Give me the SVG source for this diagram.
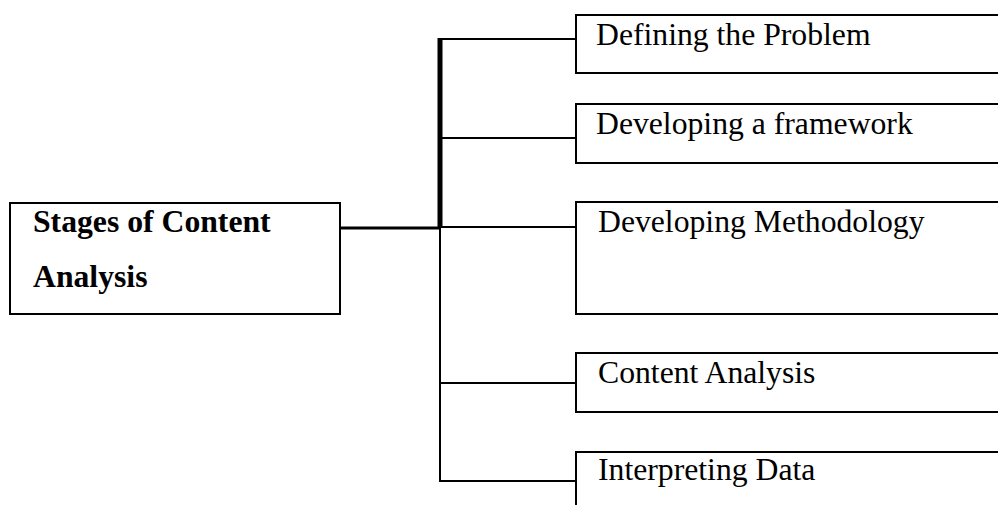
<svg xmlns="http://www.w3.org/2000/svg" width="998" height="505" viewBox="0 0 998 505">
<style>
.box{fill:#fff;stroke:#000;stroke-width:2}
.ln{stroke:#000;stroke-width:2;fill:none}
.t{font-family:"Liberation Serif","Times New Roman",serif;font-size:31.7px;fill:#000}
.b{font-weight:bold}
</style>
<rect x="0" y="0" width="998" height="505" fill="#fff"/>
<g id="connectors">
<line class="ln" x1="340" y1="228" x2="440" y2="228" style="stroke-width:3"/>
<line class="ln" x1="440" y1="38" x2="440" y2="228" style="stroke-width:5"/>
<line class="ln" x1="440" y1="228" x2="440" y2="481"/>
<line class="ln" x1="440" y1="39" x2="576" y2="39"/>
<line class="ln" x1="440" y1="138" x2="576" y2="138"/>
<line class="ln" x1="440" y1="227" x2="576" y2="227"/>
<line class="ln" x1="440" y1="383" x2="576" y2="383"/>
<line class="ln" x1="439" y1="481" x2="576" y2="481"/>
</g>
<g id="root">
<rect class="box" x="10" y="203" width="330" height="111"/>
<text class="t b" x="33" y="232">Stages of Content</text>
<text class="t b" x="33" y="287">Analysis</text>
</g>
<g id="n1">
<rect class="box" x="576" y="15" width="440" height="58"/>
<text class="t" x="596" y="44.5">Defining the Problem</text>
</g>
<g id="n2">
<rect class="box" x="576" y="104" width="440" height="59"/>
<text class="t" x="596" y="134">Developing a framework</text>
</g>
<g id="n3">
<rect class="box" x="576" y="202" width="440" height="112"/>
<text class="t" x="598" y="232">Developing Methodology</text>
</g>
<g id="n4">
<rect class="box" x="576" y="353" width="440" height="59"/>
<text class="t" x="598" y="383">Content Analysis</text>
</g>
<g id="n5">
<rect class="box" x="576" y="452" width="440" height="80"/>
<text class="t" x="598" y="480">Interpreting Data</text>
</g>
</svg>
